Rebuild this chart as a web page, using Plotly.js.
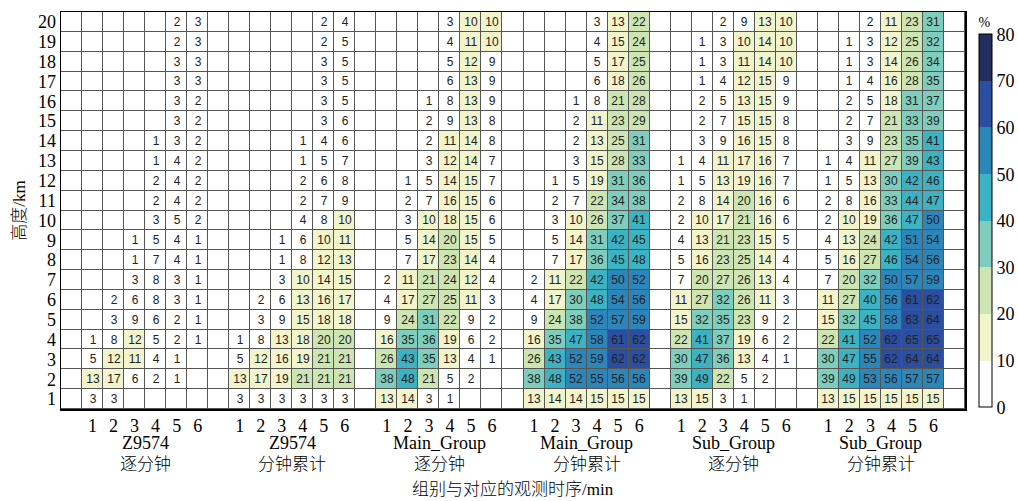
<!DOCTYPE html>
<html>
<head>
<meta charset="utf-8">
<script src="https://cdn.plot.ly/plotly-3.0.1.min.js"></script>
<style>
  html, body { margin: 0; padding: 0; background: #ffffff; }
  #chart { width: 1018px; height: 501px; }
</style>
</head>
<body>
<div id="chart"></div>
<script>
// Heights (km), listed from the top row (20 km) down to 1 km
const heightsTopDown = [20, 19, 18, 17, 16, 15, 14, 13, 12, 11, 10, 9, 8, 7, 6, 5, 4, 3, 2, 1];
const minuteTicks = ['1', '2', '3', '4', '5', '6'];
const groupNames = ['Z9574', 'Z9574', 'Main_Group', 'Main_Group', 'Sub_Group', 'Sub_Group'];
const groupModes = ['逐分钟', '分钟累计', '逐分钟', '分钟累计', '逐分钟', '分钟累计'];

// Percentages per height (rows 20 km -> 1 km) and observation minute (1..6); null = no value
const z9574Minute = [
  [null, null, null, null, 2, 3],
  [null, null, null, null, 2, 3],
  [null, null, null, null, 3, 3],
  [null, null, null, null, 3, 3],
  [null, null, null, null, 3, 2],
  [null, null, null, null, 3, 2],
  [null, null, null, 1, 3, 2],
  [null, null, null, 1, 4, 2],
  [null, null, null, 2, 4, 2],
  [null, null, null, 2, 4, 2],
  [null, null, null, 3, 5, 2],
  [null, null, 1, 5, 4, 1],
  [null, null, 1, 7, 4, 1],
  [null, null, 3, 8, 3, 1],
  [null, 2, 6, 8, 3, 1],
  [null, 3, 9, 6, 2, 1],
  [1, 8, 12, 5, 2, 1],
  [5, 12, 11, 4, 1, null],
  [13, 17, 6, 2, 1, null],
  [3, 3, null, null, null, null]
];
const z9574Cumulative = [
  [null, null, null, null, 2, 4],
  [null, null, null, null, 2, 5],
  [null, null, null, null, 3, 5],
  [null, null, null, null, 3, 5],
  [null, null, null, null, 3, 5],
  [null, null, null, null, 3, 6],
  [null, null, null, 1, 4, 6],
  [null, null, null, 1, 5, 7],
  [null, null, null, 2, 6, 8],
  [null, null, null, 2, 7, 9],
  [null, null, null, 4, 8, 10],
  [null, null, 1, 6, 10, 11],
  [null, null, 1, 8, 12, 13],
  [null, null, 3, 10, 14, 15],
  [null, 2, 6, 13, 16, 17],
  [null, 3, 9, 15, 18, 18],
  [1, 8, 13, 18, 20, 20],
  [5, 12, 16, 19, 21, 21],
  [13, 17, 19, 21, 21, 21],
  [3, 3, 3, 3, 3, 3]
];
const mainMinute = [
  [null, null, null, 3, 10, 10],
  [null, null, null, 4, 11, 10],
  [null, null, null, 5, 12, 9],
  [null, null, null, 6, 13, 9],
  [null, null, 1, 8, 13, 9],
  [null, null, 2, 9, 13, 8],
  [null, null, 2, 11, 14, 8],
  [null, null, 3, 12, 14, 7],
  [null, 1, 5, 14, 15, 7],
  [null, 2, 7, 16, 15, 6],
  [null, 3, 10, 18, 15, 6],
  [null, 5, 14, 20, 15, 5],
  [null, 7, 17, 23, 14, 4],
  [2, 11, 21, 24, 12, 4],
  [4, 17, 27, 25, 11, 3],
  [9, 24, 31, 22, 9, 2],
  [16, 35, 36, 19, 6, 2],
  [26, 43, 35, 13, 4, 1],
  [38, 48, 21, 5, 2, null],
  [13, 14, 3, 1, null, null]
];
const mainCumulative = [
  [null, null, null, 3, 13, 22],
  [null, null, null, 4, 15, 24],
  [null, null, null, 5, 17, 25],
  [null, null, null, 6, 18, 26],
  [null, null, 1, 8, 21, 28],
  [null, null, 2, 11, 23, 29],
  [null, null, 2, 13, 25, 31],
  [null, null, 3, 15, 28, 33],
  [null, 1, 5, 19, 31, 36],
  [null, 2, 7, 22, 34, 38],
  [null, 3, 10, 26, 37, 41],
  [null, 5, 14, 31, 42, 45],
  [null, 7, 17, 36, 45, 48],
  [2, 11, 22, 42, 50, 52],
  [4, 17, 30, 48, 54, 56],
  [9, 24, 38, 52, 57, 59],
  [16, 35, 47, 58, 61, 62],
  [26, 43, 52, 59, 62, 62],
  [38, 48, 52, 55, 56, 56],
  [13, 14, 14, 15, 15, 15]
];
const subMinute = [
  [null, null, 2, 9, 13, 10],
  [null, 1, 3, 10, 14, 10],
  [null, 1, 3, 11, 14, 10],
  [null, 1, 4, 12, 15, 9],
  [null, 2, 5, 13, 15, 9],
  [null, 2, 7, 15, 15, 8],
  [null, 3, 9, 16, 15, 8],
  [1, 4, 11, 17, 16, 7],
  [1, 5, 13, 19, 16, 7],
  [2, 8, 14, 20, 16, 6],
  [2, 10, 17, 21, 16, 6],
  [4, 13, 21, 23, 15, 5],
  [5, 16, 23, 25, 14, 4],
  [7, 20, 27, 26, 13, 4],
  [11, 27, 32, 26, 11, 3],
  [15, 32, 35, 23, 9, 2],
  [22, 41, 37, 19, 6, 2],
  [30, 47, 36, 13, 4, 1],
  [39, 49, 22, 5, 2, null],
  [13, 15, 3, 1, null, null]
];
const subCumulative = [
  [null, null, 2, 11, 23, 31],
  [null, 1, 3, 12, 25, 32],
  [null, 1, 3, 14, 26, 34],
  [null, 1, 4, 16, 28, 35],
  [null, 2, 5, 18, 31, 37],
  [null, 2, 7, 21, 33, 39],
  [null, 3, 9, 23, 35, 41],
  [1, 4, 11, 27, 39, 43],
  [1, 5, 13, 30, 42, 46],
  [2, 8, 16, 33, 44, 47],
  [2, 10, 19, 36, 47, 50],
  [4, 13, 24, 42, 51, 54],
  [5, 16, 27, 46, 54, 56],
  [7, 20, 32, 50, 57, 59],
  [11, 27, 40, 56, 61, 62],
  [15, 32, 45, 58, 63, 64],
  [22, 41, 52, 62, 65, 65],
  [30, 47, 55, 62, 64, 64],
  [39, 49, 53, 56, 57, 57],
  [13, 15, 15, 15, 15, 15]
];

// Colour bands of 10 % between 0 and 80 %
const bandColors = ['#ffffff', '#f2f4cb', '#cde5b2', '#7fcebd', '#3db2c3', '#2c86ba', '#2b4ea0', '#232d5e'];

const groupData = [z9574Minute, z9574Cumulative, mainMinute, mainCumulative, subMinute, subCumulative];

// Layout of the grid: one blank column before, between and after the groups
const colsPerGroup = minuteTicks.length;
const stride = colsPerGroup + 1;
const nCols = groupData.length * stride + 1;
const heights = heightsTopDown.slice().reverse();
const nRows = heights.length;
const xPos = Array.from({ length: nCols }, (_, i) => i);

const zMain = heights.map(() => new Array(nCols).fill(null));
const zText = heights.map(() => new Array(nCols).fill(''));
const zBase = heights.map(() => new Array(nCols).fill(0));

groupData.forEach((grid, g) => {
  grid.forEach((row, rTop) => {
    const r = nRows - 1 - rTop;
    row.forEach((v, c) => {
      if (v === null) return;
      const col = g * stride + 1 + c;
      zMain[r][col] = v;
      zText[r][col] = String(v);
    });
  });
});

const tickVals = [];
const tickText = [];
groupData.forEach((_, g) => {
  minuteTicks.forEach((t, c) => {
    tickVals.push(g * stride + 1 + c);
    tickText.push(t);
  });
});

// Stepped colour scale (edges nudged so a value of exactly 10, 20 ... opens the next band)
const colorscale = [];
bandColors.forEach((col, k) => {
  const lo = k === 0 ? 0 : k / bandColors.length - 0.0005;
  const hi = k === bandColors.length - 1 ? 1 : (k + 1) / bandColors.length - 0.0005;
  colorscale.push([lo, col], [hi, col]);
});

const serif = 'Liberation Serif';
const serifCjk = '"Liberation Serif", "Noto Sans CJK SC"';
const lineColor = '#555555';

const latinFont = (size) => ({ family: serif, size: size, color: '#000000', weight: 'normal' });
const cjkFont = (size) => ({ family: serifCjk, size: size, color: '#000000', weight: 300 });

const traces = [
  {
    type: 'heatmap',
    x: xPos,
    y: heights,
    z: zBase,
    colorscale: [[0, '#ffffff'], [1, '#ffffff']],
    showscale: false,
    xgap: 1,
    ygap: 1,
    hoverinfo: 'skip'
  },
  {
    type: 'heatmap',
    x: xPos,
    y: heights,
    z: zMain,
    text: zText,
    texttemplate: '%{text}',
    textfont: { family: 'Liberation Sans', size: 12, color: '#222222', weight: 'normal' },
    zmin: 0,
    zmax: 80,
    colorscale: colorscale,
    xgap: 1,
    ygap: 1,
    hoverongaps: false,
    colorbar: {
      x: 1.0155,
      xanchor: 'left',
      xpad: 0,
      y: 0.004,
      yanchor: 'bottom',
      ypad: 0,
      len: 0.99,
      lenmode: 'fraction',
      thickness: 13,
      outlinewidth: 1,
      outlinecolor: '#000000',
      tickmode: 'array',
      tickvals: [0, 10, 20, 30, 40, 50, 60, 70, 80],
      ticks: '',
      ticklabelpad: 5,
      tickfont: latinFont(18),
      title: { text: '%', side: 'top', font: latinFont(14) }
    }
  }
];

const annotations = [];
groupData.forEach((_, g) => {
  const cx = g * stride + 1 + (colsPerGroup - 1) / 2;
  annotations.push({
    x: cx, xref: 'x', y: -0.086, yref: 'paper', yanchor: 'middle',
    text: groupNames[g], showarrow: false,
    font: latinFont(18)
  });
  annotations.push({
    x: cx, xref: 'x', y: -0.139, yref: 'paper', yanchor: 'middle',
    text: groupModes[g], showarrow: false,
    font: cjkFont(17)
  });
});
annotations.push({
  x: 0.5, xref: 'paper', y: -0.204, yref: 'paper', yanchor: 'middle',
  text: '组别与对应的观测时序/min', showarrow: false,
  font: cjkFont(17)
});

const layout = {
  width: 1018,
  height: 501,
  margin: { l: 61, r: 53, t: 12, b: 92, pad: 0, autoexpand: false },
  paper_bgcolor: '#ffffff',
  plot_bgcolor: lineColor,
  showlegend: false,
  xaxis: {
    range: [-0.5, nCols - 0.5],
    tickmode: 'array',
    tickvals: tickVals,
    ticktext: tickText,
    ticks: '',
    showgrid: false,
    zeroline: false,
    showline: true,
    mirror: true,
    linecolor: '#000000',
    linewidth: 1.5,
    tickfont: latinFont(18),
    fixedrange: true
  },
  yaxis: {
    range: [0.5, nRows + 0.5],
    tickmode: 'array',
    tickvals: heights,
    ticktext: heights.map(String),
    ticks: '',
    showgrid: false,
    zeroline: false,
    showline: true,
    mirror: true,
    linecolor: '#000000',
    linewidth: 1.5,
    tickfont: latinFont(18),
    title: { text: '高度/km', font: cjkFont(17), standoff: 8 },
    fixedrange: true
  },
  annotations: annotations
};

Plotly.newPlot('chart', traces, layout, { displayModeBar: false, staticPlot: true });
</script>
</body>
</html>
